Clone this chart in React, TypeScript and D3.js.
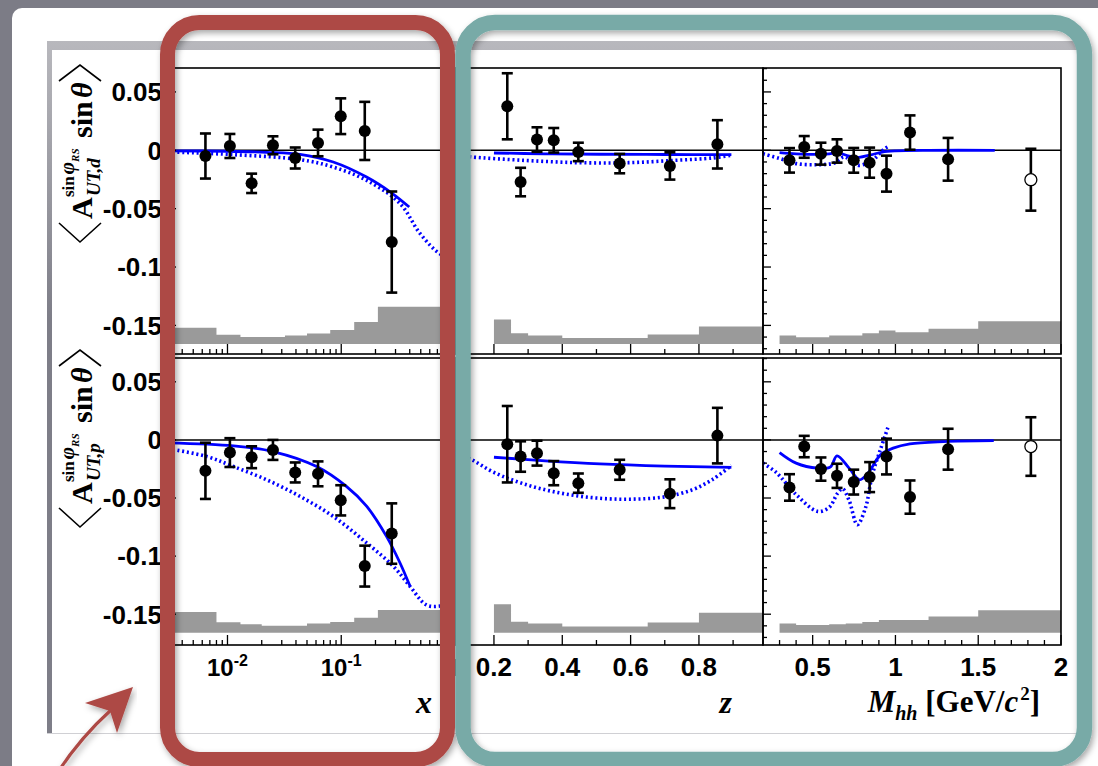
import React from "react";
import * as d3 from "d3";

type Pt = [number, number];

// ---------------- data ----------------
// bin edges
const xBinEdges = [0.003, 0.008, 0.013, 0.02, 0.032, 0.05, 0.08, 0.13, 0.21, 1.0];
const zBinEdges = [0.2, 0.25, 0.3, 0.35, 0.4, 0.5, 0.65, 0.8, 1.0];
const mBinEdges = [0.3, 0.4, 0.5, 0.6, 0.7, 0.8, 0.9, 1.0, 1.2, 1.5, 2.0];

// x dependence
const xMean = [0.0064, 0.0105, 0.0163, 0.0251, 0.0394, 0.0625, 0.099, 0.161, 0.278];
const dAsymX = [-0.0049, 0.0037, -0.0283, 0.0043, -0.0066, 0.0063, 0.0292, 0.0166, -0.0786];
const dErrX = [0.0193, 0.0103, 0.0083, 0.0077, 0.009, 0.0114, 0.0153, 0.0249, 0.0433];
const pAsymX = [-0.0266, -0.0109, -0.0149, -0.0086, -0.028, -0.0292, -0.052, -0.1086, -0.0806];
const pErrX = [0.0242, 0.0124, 0.0094, 0.0086, 0.0086, 0.0107, 0.013, 0.0176, 0.026];
const dSysX = [-0.152, -0.158, -0.16, -0.16, -0.1587, -0.157, -0.154, -0.147, -0.134];
const pSysX = [-0.148, -0.157, -0.1587, -0.16, -0.16, -0.158, -0.1567, -0.153, -0.1464];

// z dependence
const zMean = [0.239, 0.278, 0.326, 0.375, 0.447, 0.568, 0.715, 0.854];
const dAsymZ = [0.0377, -0.0272, 0.0092, 0.0086, -0.0014, -0.0114, -0.0134, 0.0051];
const dErrZ = [0.0283, 0.0122, 0.0105, 0.0105, 0.0079, 0.0083, 0.0117, 0.0207];
const pAsymZ = [-0.0037, -0.0143, -0.0114, -0.0286, -0.0372, -0.0257, -0.0463, 0.0037];
const pErrZ = [0.0329, 0.0131, 0.0107, 0.0104, 0.0083, 0.0086, 0.0124, 0.0239];
const dSysZ = [-0.145, -0.1567, -0.1587, -0.1587, -0.1607, -0.1607, -0.1578, -0.151];
const pSysZ = [-0.1415, -0.1564, -0.158, -0.158, -0.1606, -0.1606, -0.1572, -0.1487];

// Mhh dependence (last point drawn open)
const mMean = [0.36, 0.449, 0.55, 0.647, 0.748, 0.844, 0.946, 1.088, 1.318, 1.818];
const dAsymM = [-0.0086, 0.0029, -0.0029, -0.0006, -0.0086, -0.0106, -0.02, 0.0152, -0.0077, -0.0252];
const dErrM = [0.0105, 0.0093, 0.0094, 0.01, 0.0106, 0.0129, 0.0154, 0.0147, 0.0183, 0.0265];
const pAsymM = [-0.0409, -0.0057, -0.0251, -0.0309, -0.0363, -0.032, -0.0143, -0.0492, -0.008, -0.0057];
const pErrM = [0.0114, 0.0092, 0.01, 0.0104, 0.0107, 0.0129, 0.0154, 0.0143, 0.0176, 0.0252];
const mOpenIndex = 9;
const dSysM = [-0.1587, -0.1601, -0.1601, -0.1587, -0.1587, -0.1567, -0.1544, -0.1558, -0.1529, -0.1464];
const pSysM = [-0.158, -0.1593, -0.1593, -0.1587, -0.158, -0.1567, -0.155, -0.155, -0.152, -0.1466];

const sysBase = -0.166;

// model curves
const dSolidX: Pt[] = [[0.003, -0.0005], [0.01, -0.0008], [0.0221, -0.0017], [0.0434, -0.0034], [0.085, -0.01], [0.167, -0.0229], [0.278, -0.0366], [0.396, -0.0486]];
const dDotX: Pt[] = [[0.003, -0.0013], [0.0112, -0.0037], [0.0434, -0.008], [0.0845, -0.0143], [0.167, -0.0257], [0.328, -0.0455], [0.492, -0.0712], [0.736, -0.0886], [1.0, -0.093]];
const pSolidX: Pt[] = [[0.003, -0.0025], [0.0113, -0.0051], [0.0251, -0.01], [0.0608, -0.0229], [0.111, -0.04], [0.167, -0.057], [0.25, -0.083], [0.328, -0.1057], [0.402, -0.1258]];
const pDotX: Pt[] = [[0.003, -0.0075], [0.0066, -0.0143], [0.0113, -0.0229], [0.0221, -0.0343], [0.0434, -0.0486], [0.085, -0.0658], [0.167, -0.0886], [0.286, -0.1086], [0.402, -0.126], [0.56, -0.142], [0.74, -0.143], [1.0, -0.139]];

const dSolidZ: Pt[] = [[0.2, -0.0023], [0.35, -0.003], [0.51, -0.0034], [0.7, -0.0036], [0.895, -0.0037]];
const dDotZ: Pt[] = [[0.086, -0.004], [0.134, -0.0057], [0.288, -0.0086], [0.447, -0.0106], [0.594, -0.0106], [0.73, -0.0086], [0.84, -0.0066], [0.895, -0.0043]];
const pSolidZ: Pt[] = [[0.2, -0.0149], [0.35, -0.018], [0.51, -0.0206], [0.7, -0.0225], [0.895, -0.0237]];
const pDotZ: Pt[] = [[0.086, -0.011], [0.135, -0.017], [0.2, -0.028], [0.3, -0.039], [0.4, -0.046], [0.5, -0.05], [0.6, -0.051], [0.7, -0.049], [0.78, -0.043], [0.84, -0.034], [0.895, -0.022]];

const dSolidM: Pt[] = [[0.3, -0.002], [0.4, -0.003], [0.5, -0.0035], [0.6, -0.003], [0.65, -0.002], [0.72, -0.005], [0.78, -0.006], [0.85, -0.004], [0.92, -0.0015], [1.0, -0.0005], [1.2, 0], [1.6, 0]];
const dDotM: Pt[] = [[0.2, -0.003], [0.3, -0.007], [0.4, -0.0114], [0.53, -0.0123], [0.63, -0.0109], [0.69, -0.0057], [0.74, -0.01], [0.78, -0.0129], [0.86, -0.0086], [0.935, 0.0014], [0.96, 0.0034]];
const pSolidM: Pt[] = [[0.3, -0.0109], [0.4, -0.02], [0.53, -0.0243], [0.606, -0.0234], [0.647, -0.0137], [0.72, -0.0243], [0.783, -0.0343], [0.834, -0.0286], [0.91, -0.0129], [0.986, -0.0071], [1.087, -0.0034], [1.29, -0.0014], [1.594, -0.0006]];
const pDotM: Pt[] = [[0.2, -0.02], [0.28, -0.028], [0.4, -0.047], [0.53, -0.0615], [0.6, -0.058], [0.65, -0.046], [0.68, -0.042], [0.72, -0.052], [0.77, -0.073], [0.82, -0.058], [0.86, -0.03], [0.91, -0.008], [0.96, 0.013]];

// tick labels
const yTickVals = [0.05, 0, -0.05, -0.1, -0.15];
const yTickLabels = ["0.05", "0", "-0.05", "-0.1", "-0.15"];
const xLogTickVals = [0.01, 0.1, 1];
const xLogTickExp = ["-2", "-1", ""];
const zTickVals = [0.2, 0.4, 0.6, 0.8];
const zTickLabels = ["0.2", "0.4", "0.6", "0.8"];
const mTickVals = [0.5, 1, 1.5, 2];
const mTickLabels = ["0.5", "1", "1.5", "2"];

// ---------------- layout ----------------
const COLX: [number, number] = [168, 455];
const COLZ: [number, number] = [455, 763];
const COLM: [number, number] = [763, 1061];
const ROWT: [number, number] = [68, 354];
const ROWB: [number, number] = [358, 645];

const yTop = d3.scaleLinear().domain([-0.1745, 0.0705]).range([ROWT[1], ROWT[0]]);
const yBot = d3.scaleLinear().domain([-0.1765, 0.0705]).range([ROWB[1], ROWB[0]]);
const xX = d3.scaleLog().domain([0.003, 1]).range(COLX);
const xZ = d3.scaleLinear().domain([0.086, 0.9875]).range(COLZ);
const xM = d3.scaleLinear().domain([0.2, 2.0]).range(COLM);

const BLUE = "#0000ff";
const SANS = "'Liberation Sans', Arial, Helvetica, sans-serif";
const SERIF = "'Liberation Serif', 'Times New Roman', serif";
const RED = "#ad4945";
const TEAL = "#78aaa7";

type PanelProps = {
  id: string;
  xs: (v: number) => number;
  ys: d3.ScaleLinear<number, number>;
  cx: [number, number];
  cy: [number, number];
  means: number[];
  vals: number[];
  errs: number[];
  openIndex?: number;
  edges: number[];
  sys: number[];
  solid: Pt[];
  dotted: Pt[];
};

function Panel(p: PanelProps) {
  const { id, xs, ys, cx, cy } = p;
  const line = d3
    .line<Pt>()
    .x((d) => xs(d[0]))
    .y((d) => ys(d[1]))
    .curve(d3.curveCatmullRom.alpha(0.5));
  const base = ys(sysBase);
  let hist = `M${xs(p.edges[0])},${base}`;
  p.sys.forEach((v, i) => {
    hist += `L${xs(p.edges[i])},${ys(v)}L${xs(p.edges[i + 1])},${ys(v)}`;
  });
  hist += `L${xs(p.edges[p.edges.length - 1])},${base}Z`;
  return (
    <g>
      <defs>
        <clipPath id={id}>
          <rect x={cx[0]} y={cy[0]} width={cx[1] - cx[0]} height={cy[1] - cy[0]} />
        </clipPath>
      </defs>
      <g clipPath={`url(#${id})`}>
        <path d={hist} fill="#9a9a9a" />
        <line x1={cx[0]} x2={cx[1]} y1={ys(0)} y2={ys(0)} stroke="#000" strokeWidth={1.5} />
        <path d={line(p.dotted) || ""} fill="none" stroke={BLUE} strokeWidth={3.6} strokeDasharray="2 2.8" />
        <path d={line(p.solid) || ""} fill="none" stroke={BLUE} strokeWidth={2.8} />
        {p.means.map((m, i) => {
          const x = xs(m);
          const y1 = ys(p.vals[i] + p.errs[i]);
          const y2 = ys(p.vals[i] - p.errs[i]);
          const open = p.openIndex === i;
          return (
            <g key={i} stroke="#000" strokeWidth={2.6}>
              <line x1={x} x2={x} y1={y1} y2={y2} />
              <line x1={x - 5.5} x2={x + 5.5} y1={y1} y2={y1} />
              <line x1={x - 5.5} x2={x + 5.5} y1={y2} y2={y2} />
              <circle cx={x} cy={ys(p.vals[i])} r={open ? 6 : 6} fill={open ? "#fff" : "#000"} strokeWidth={open ? 1.3 : 0} />
            </g>
          );
        })}
      </g>
      <rect x={cx[0]} y={cy[0]} width={cx[1] - cx[0]} height={cy[1] - cy[0]} fill="none" stroke="#000" strokeWidth={1.6} />
    </g>
  );
}

function XTicks({ vals, majors, xs, y }: { vals: number[]; majors: boolean[]; xs: (v: number) => number; y: number }) {
  return (
    <g stroke="#000" strokeWidth={1.3}>
      {vals.map((v, i) => (
        <line key={i} x1={xs(v)} x2={xs(v)} y1={y} y2={y - (majors[i] ? 10 : 5)} />
      ))}
    </g>
  );
}

function YTicks({ x, ys }: { x: number; ys: d3.ScaleLinear<number, number> }) {
  const vals = d3.range(-17, 8).map((k) => k / 100);
  return (
    <g stroke="#000" strokeWidth={1.3}>
      {vals.map((v, i) => {
        const major = Math.abs(Math.round(v * 100) % 5) === 0;
        return <line key={i} x1={x} x2={x + (major ? 8 : 4)} y1={ys(v)} y2={ys(v)} />;
      })}
    </g>
  );
}

function YTitle({ cx, cy, sub }: { cx: number; cy: number; sub: string }) {
  return (
    <g transform={`translate(${cx},${cy}) rotate(-90)`} fontFamily={SERIF} fontWeight="bold" fill="#000">
      <path d="M -66 -33 L -85 -12 L -66 9" fill="none" stroke="#000" strokeWidth={1.6} />
      <text x={-62} y={0} fontSize={30}>A</text>
      <text x={-40} y={-18} fontSize={17}>
        sin
        <tspan fontStyle="italic" fontSize={21} dx={2}>φ</tspan>
        <tspan fontStyle="italic" fontSize={11} dy={5}>RS</tspan>
      </text>
      <text x={-39} y={8} fontSize={19} fontStyle="italic">{sub}</text>
      <text x={19} y={0} fontSize={30}>sin</text>
      <text x={59} y={0} fontSize={30} fontStyle="italic">θ</text>
      <path d="M 76 -33 L 92 -12 L 76 9" fill="none" stroke="#000" strokeWidth={1.6} />
    </g>
  );
}

export default function App() {
  const logTicks = xX.ticks().filter((v) => v >= 0.003 && v <= 1);
  const logMaj = logTicks.map((v) => Math.abs(Math.log10(v) - Math.round(Math.log10(v))) < 1e-6);
  const zTicks = d3.range(1, 10).map((k) => k / 10);
  const zMaj = zTicks.map((v) => Math.round(v * 10) % 2 === 0);
  const mTicks = d3.range(3, 21).map((k) => k / 10);
  const mMaj = mTicks.map((v) => Math.round(v * 10) % 5 === 0);
  const labelY = 676;

  return (
    <svg width={1098} height={766} style={{ position: "fixed", left: 0, top: 0 }} xmlns="http://www.w3.org/2000/svg">
      <defs>
        <filter id="shadow" x="-5%" y="-5%" width="110%" height="110%">
          <feDropShadow dx="2" dy="3" stdDeviation="3" floodColor="#000" floodOpacity="0.35" />
        </filter>
        <linearGradient id="topband" x1="0" y1="0" x2="0" y2="1">
          <stop offset="0" stopColor="#b8b8bd" />
          <stop offset="0.4" stopColor="#7e7e88" />
          <stop offset="1" stopColor="#7e7e88" />
        </linearGradient>
      </defs>
      {/* background */}
      <rect x={0} y={0} width={1098} height={766} fill="#7c7c86" />
      <rect x={12} y={8} width={1120} height={780} rx={10} fill="#ffffff" />
      {/* figure frame */}
      <rect x={47} y={41} width={1033} height={692} fill="url(#topband)" />
      <rect x={52} y={50} width={1028} height={683} fill="#ffffff" />
      <line x1={47} x2={1080} y1={733.5} y2={733.5} stroke="#d0d0d4" strokeWidth={1} />

      {/* panels */}
      <Panel id="c1" xs={xX} ys={yTop} cx={COLX} cy={ROWT} means={xMean} vals={dAsymX} errs={dErrX} edges={xBinEdges} sys={dSysX} solid={dSolidX} dotted={dDotX} />
      <Panel id="c2" xs={xZ} ys={yTop} cx={COLZ} cy={ROWT} means={zMean} vals={dAsymZ} errs={dErrZ} edges={zBinEdges} sys={dSysZ} solid={dSolidZ} dotted={dDotZ} />
      <Panel id="c3" xs={xM} ys={yTop} cx={COLM} cy={ROWT} means={mMean} vals={dAsymM} errs={dErrM} openIndex={mOpenIndex} edges={mBinEdges} sys={dSysM} solid={dSolidM} dotted={dDotM} />
      <Panel id="c4" xs={xX} ys={yBot} cx={COLX} cy={ROWB} means={xMean} vals={pAsymX} errs={pErrX} edges={xBinEdges} sys={pSysX} solid={pSolidX} dotted={pDotX} />
      <Panel id="c5" xs={xZ} ys={yBot} cx={COLZ} cy={ROWB} means={zMean} vals={pAsymZ} errs={pErrZ} edges={zBinEdges} sys={pSysZ} solid={pSolidZ} dotted={pDotZ} />
      <Panel id="c6" xs={xM} ys={yBot} cx={COLM} cy={ROWB} means={mMean} vals={pAsymM} errs={pErrM} openIndex={mOpenIndex} edges={mBinEdges} sys={pSysM} solid={pSolidM} dotted={pDotM} />

      {/* ticks */}
      {[ROWT[1], ROWB[1]].map((y, i) => (
        <g key={i}>
          <XTicks vals={logTicks} majors={logMaj} xs={xX} y={y} />
          <XTicks vals={zTicks} majors={zMaj} xs={xZ} y={y} />
          <XTicks vals={mTicks} majors={mMaj} xs={xM} y={y} />
        </g>
      ))}
      <YTicks x={COLM[0]} ys={yTop} />
      <YTicks x={COLM[0]} ys={yBot} />
      <YTicks x={COLX[0]} ys={yTop} />
      <YTicks x={COLX[0]} ys={yBot} />

      {/* y tick labels */}
      <g fontFamily={SANS} fontWeight="bold" fontSize={26} textAnchor="end" fill="#000">
        {yTickVals.map((v, i) => (
          <text key={"t" + i} x={162} y={yTop(v)} dy="0.36em">{yTickLabels[i]}</text>
        ))}
        {yTickVals.map((v, i) => (
          <text key={"b" + i} x={162} y={yBot(v)} dy="0.36em">{yTickLabels[i]}</text>
        ))}
      </g>

      {/* x tick labels */}
      <g fontFamily={SANS} fontWeight="bold" fontSize={26} textAnchor="middle" fill="#000">
        {xLogTickVals.map((v, i) =>
          xLogTickExp[i] ? (
            <text key={"l" + i} x={xX(v)} y={labelY} fontSize={24}>
              10<tspan dy={-10} fontSize={16}>{xLogTickExp[i]}</tspan>
            </text>
          ) : (
            <text key={"l" + i} x={xX(v)} y={labelY} fontSize={24}>1</text>
          )
        )}
        {zTickVals.map((v, i) => (
          <text key={"z" + i} x={xZ(v)} y={labelY}>{zTickLabels[i]}</text>
        ))}
        {mTickVals.map((v, i) => (
          <text key={"m" + i} x={xM(v)} y={labelY}>{mTickLabels[i]}</text>
        ))}
      </g>

      {/* axis titles */}
      <g fontFamily={SERIF} fontWeight="bold" fill="#000">
        <text x={432} y={713} fontSize={32} fontStyle="italic" textAnchor="end">x</text>
        <text x={732} y={713} fontSize={32} fontStyle="italic" textAnchor="end">z</text>
        <text x={1040} y={712} fontSize={31} textAnchor="end">
          <tspan fontStyle="italic">M</tspan>
          <tspan fontStyle="italic" fontSize={20} dy={8}>hh</tspan>
          <tspan dy={-8}> [GeV/</tspan>
          <tspan fontStyle="italic">c</tspan>
          <tspan fontSize={19} dy={-12} dx={2}>2</tspan>
          <tspan dy={12}>]</tspan>
        </text>
      </g>
      <YTitle cx={92} cy={157} sub="UT,d" />
      <YTitle cx={92} cy={442} sub="UT,p" />

      {/* highlight boxes */}
      <g filter="url(#shadow)" fill="none">
        <rect x={167.5} y={22.5} width={280} height={737} rx={32} stroke={RED} strokeWidth={15} />
        <rect x={463} y={22.5} width={621.5} height={737} rx={32} stroke={TEAL} strokeWidth={15.5} />
      </g>
      {/* arrow */}
      <g filter="url(#shadow)">
        <path d="M 58 772 Q 80 738 112 709" fill="none" stroke={RED} strokeWidth={3.2} />
        <path d="M 133 687 L 85 703 L 110 711 L 117 733 Z" fill={RED} />
      </g>
    </svg>
  );
}
